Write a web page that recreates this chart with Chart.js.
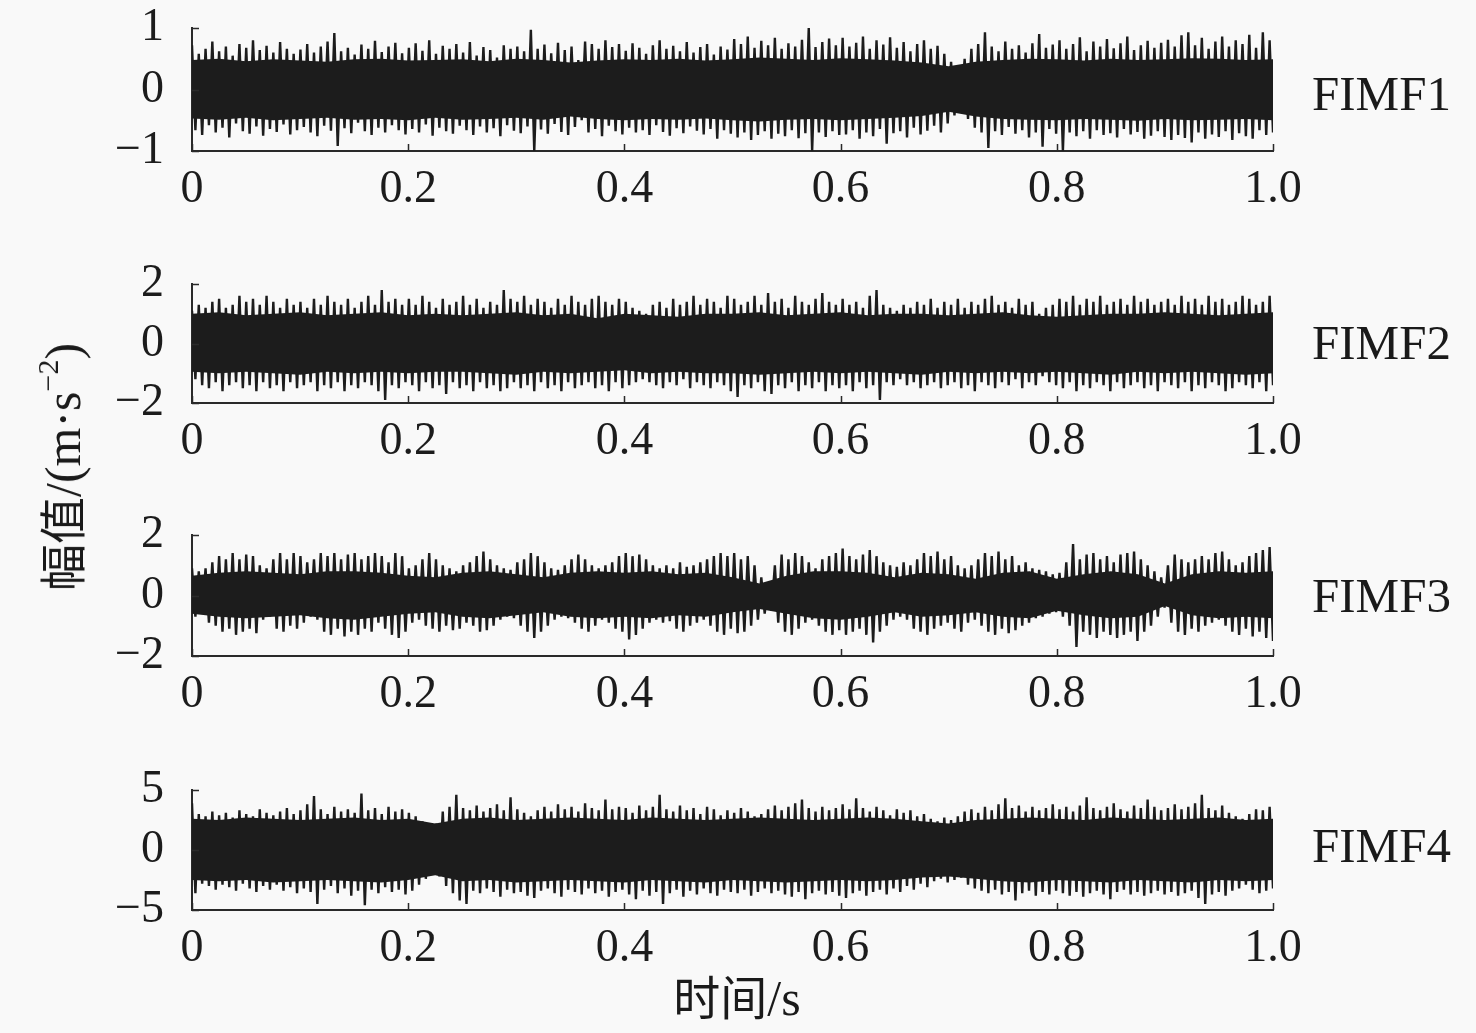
<!DOCTYPE html>
<html>
<head>
<meta charset="utf-8">
<script src="https://cdn.jsdelivr.net/npm/chart.js@4.4.0/dist/chart.umd.min.js"></script>
<style>
  body { margin: 0; background: #f9f9f9; width: 1476px; height: 1033px; position: relative; overflow: hidden;
         font-family: "Liberation Serif", "Times New Roman", "Noto Sans CJK SC", serif; color: #1a1a1a; }
  canvas { position: absolute; left: 0; }
  .imf { position: absolute; left: 1312px; font-size: 49px; line-height: 1; white-space: nowrap; }
  .ytitle { position: absolute; left: 62px; top: 467px; font-size: 50px; line-height: 1; white-space: nowrap;
            transform: translate(-50%, -50%) rotate(-90deg); }
  .xtitle { position: absolute; left: 737px; top: 997px; font-size: 50px; line-height: 1; white-space: nowrap;
            transform: translate(-50%, -50%); }
  .cjk { font-family: "Noto Sans CJK SC", sans-serif; font-size: 47px; }
  sup { font-size: 30px; line-height: 0; vertical-align: 22px; }
</style>
</head>
<body>
<canvas id="c1" width="1476" height="223"></canvas>
<canvas id="c2" width="1476" height="219"></canvas>
<canvas id="c3" width="1476" height="221"></canvas>
<canvas id="c4" width="1476" height="220"></canvas>
<div class="imf" style="top:69px">FIMF1</div>
<div class="imf" style="top:318px">FIMF2</div>
<div class="imf" style="top:571px">FIMF3</div>
<div class="imf" style="top:821px">FIMF4</div>
<div class="ytitle"><span class="cjk">幅值</span>/(m·s<sup>−2</sup>)</div>
<div class="xtitle"><span class="cjk">时间</span>/s</div>
<script>
// envelope of each signal: upper peaks and lower troughs (160 each),
// and the dense core band (41 points, every 0.025 s)
const coreTime = [0,0.025,0.05,0.075,0.1,0.125,0.15,0.175,0.2,0.225,0.25,0.275,0.3,0.325,0.35,0.375,0.4,0.425,0.45,0.475,
  0.5,0.525,0.55,0.575,0.6,0.625,0.65,0.675,0.7,0.725,0.75,0.775,0.8,0.825,0.85,0.875,0.9,0.925,0.95,0.975,1.0];
const xTicks = [0, 0.2, 0.4, 0.6, 0.8, 1.0];

const fimf1Upper = [
  0.72,0.58,0.66,0.78,0.62,0.70,0.55,0.74,0.68,0.80,0.64,0.71,0.60,0.77,0.66,0.58,
  0.65,0.74,0.60,0.70,0.78,0.92,0.62,0.68,0.57,0.73,0.66,0.79,0.61,0.70,0.76,0.59,
  0.68,0.75,0.63,0.80,0.58,0.71,0.66,0.74,0.60,0.77,0.55,0.69,0.64,0.52,0.72,0.66,
  0.70,0.62,0.97,0.66,0.73,0.59,0.76,0.64,0.70,0.48,0.78,0.74,0.66,0.80,0.69,0.74,
  0.63,0.75,0.68,0.58,0.72,0.80,0.66,0.71,0.62,0.77,0.60,0.69,0.74,0.57,0.70,0.65,
  0.82,0.74,0.86,0.68,0.79,0.72,0.84,0.66,0.75,0.70,0.81,1.00,0.69,0.77,0.83,0.72,
  0.84,0.70,0.76,0.86,0.66,0.80,0.73,0.85,0.68,0.77,0.62,0.74,0.80,0.66,0.71,0.58,
  0.45,0.32,0.50,0.66,0.74,0.93,0.70,0.62,0.78,0.66,0.72,0.60,0.75,0.90,0.68,0.73,
  0.80,0.66,0.74,0.85,0.62,0.78,0.70,0.82,0.67,0.75,0.86,0.64,0.72,0.79,0.68,0.76,
  0.81,0.70,0.88,0.93,0.72,0.84,0.66,0.78,0.86,0.70,0.80,0.74,0.89,0.68,0.93,0.80];
const fimf1Lower = [
  -0.66,-0.74,-0.58,-0.70,-0.62,-0.78,-0.55,-0.68,-0.72,-0.60,-0.75,-0.64,-0.69,-0.57,-0.73,-0.66,
  -0.61,-0.70,-0.76,-0.59,-0.67,-0.92,-0.63,-0.71,-0.54,-0.68,-0.74,-0.62,-0.70,-0.58,-0.66,-0.73,
  -0.64,-0.70,-0.57,-0.75,-0.62,-0.68,-0.72,-0.59,-0.66,-0.74,-0.60,-0.70,-0.63,-0.76,-0.58,-0.67,
  -0.71,-0.60,-1.00,-0.65,-0.72,-0.56,-0.69,-0.74,-0.61,-0.50,-0.70,-0.64,-0.76,-0.59,-0.68,-0.73,
  -0.62,-0.70,-0.66,-0.74,-0.58,-0.69,-0.75,-0.63,-0.71,-0.60,-0.67,-0.73,-0.64,-0.80,-0.66,-0.72,
  -0.78,-0.70,-0.82,-0.74,-0.68,-0.80,-0.72,-0.76,-0.66,-0.79,-0.71,-1.00,-0.70,-0.77,-0.68,-0.74,
  -0.73,-0.66,-0.80,-0.70,-0.76,-0.64,-0.88,-0.71,-0.68,-0.78,-0.62,-0.73,-0.67,-0.59,-0.70,-0.55,
  -0.42,-0.30,-0.48,-0.62,-0.70,-0.95,-0.68,-0.74,-0.61,-0.72,-0.66,-0.78,-0.70,-0.93,-0.64,-0.72,
  -1.00,-0.70,-0.76,-0.68,-0.80,-0.66,-0.74,-0.71,-0.78,-0.64,-0.73,-0.69,-0.80,-0.75,-0.68,-0.77,
  -0.82,-0.74,-0.79,-0.86,-0.70,-0.80,-0.73,-0.77,-0.68,-0.82,-0.71,-0.76,-0.80,-0.66,-0.74,-0.70];
const fimf1CoreHi = [0.48,0.50,0.46,0.49,0.47,0.45,0.49,0.50,0.47,0.48,0.49,0.46,0.50,0.48,0.44,0.47,0.49,0.48,0.50,0.47,
  0.49,0.52,0.50,0.48,0.51,0.49,0.47,0.44,0.38,0.45,0.48,0.50,0.49,0.47,0.50,0.48,0.49,0.51,0.50,0.48,0.49];
const fimf1CoreLo = [-0.47,-0.49,-0.46,-0.50,-0.48,-0.46,-0.49,-0.48,-0.50,-0.46,-0.49,-0.48,-0.46,-0.49,-0.44,-0.48,-0.50,-0.48,-0.49,-0.47,
  -0.50,-0.52,-0.49,-0.48,-0.50,-0.48,-0.46,-0.43,-0.36,-0.44,-0.48,-0.49,-0.50,-0.48,-0.49,-0.51,-0.48,-0.50,-0.49,-0.48,-0.50];

const fimf2Upper = [
  1.1,1.3,1.2,1.4,1.5,1.2,1.3,1.6,1.4,1.5,1.3,1.6,1.4,1.2,1.5,1.3,
  1.4,1.2,1.5,1.3,1.6,1.4,1.3,1.5,1.2,1.4,1.6,1.3,1.8,1.4,1.5,1.3,
  1.5,1.3,1.6,1.4,1.2,1.5,1.3,1.4,1.6,1.3,1.5,1.2,1.4,1.3,1.8,1.5,
  1.4,1.6,1.3,1.5,1.4,1.2,1.5,1.3,1.6,1.4,1.3,1.5,1.6,1.4,1.3,1.5,
  1.4,1.2,1.1,1.0,1.3,1.4,1.2,1.5,1.3,1.4,1.6,1.3,1.5,1.4,1.2,1.6,
  1.5,1.3,1.4,1.6,1.3,1.7,1.4,1.5,1.2,1.6,1.4,1.3,1.5,1.7,1.4,1.3,
  1.5,1.3,1.4,1.2,1.6,1.8,1.3,1.2,1.1,1.3,1.2,1.4,1.3,1.5,1.2,1.4,
  1.3,1.5,1.2,1.4,1.3,1.5,1.6,1.3,1.4,1.2,1.5,1.3,1.4,1.0,1.2,1.3,
  1.5,1.4,1.6,1.3,1.5,1.4,1.6,1.3,1.4,1.5,1.3,1.6,1.4,1.5,1.3,1.4,
  1.5,1.3,1.6,1.4,1.5,1.3,1.6,1.4,1.5,1.3,1.4,1.6,1.5,1.3,1.4,1.6];
const fimf2Lower = [
  -1.2,-1.4,-1.5,-1.3,-1.6,-1.4,-1.3,-1.5,-1.4,-1.6,-1.3,-1.5,-1.4,-1.6,-1.3,-1.5,
  -1.4,-1.3,-1.6,-1.4,-1.5,-1.3,-1.6,-1.4,-1.5,-1.3,-1.4,-1.6,-1.9,-1.4,-1.5,-1.3,
  -1.4,-1.6,-1.3,-1.5,-1.4,-1.7,-1.3,-1.5,-1.4,-1.6,-1.3,-1.5,-1.4,-1.6,-1.5,-1.3,
  -1.5,-1.4,-1.6,-1.3,-1.5,-1.4,-1.6,-1.3,-1.5,-1.4,-1.3,-1.5,-1.4,-1.6,-1.3,-1.5,
  -1.4,-1.3,-1.2,-1.3,-1.4,-1.5,-1.3,-1.4,-1.2,-1.5,-1.3,-1.4,-1.5,-1.3,-1.4,-1.6,
  -1.8,-1.4,-1.5,-1.3,-1.6,-1.7,-1.4,-1.5,-1.3,-1.6,-1.4,-1.5,-1.3,-1.6,-1.4,-1.5,
  -1.4,-1.6,-1.3,-1.5,-1.4,-1.9,-1.3,-1.4,-1.2,-1.4,-1.3,-1.5,-1.4,-1.3,-1.5,-1.4,
  -1.3,-1.5,-1.4,-1.6,-1.3,-1.4,-1.5,-1.3,-1.4,-1.2,-1.5,-1.3,-1.4,-1.1,-1.3,-1.4,
  -1.5,-1.3,-1.6,-1.4,-1.5,-1.3,-1.4,-1.6,-1.3,-1.5,-1.4,-1.3,-1.5,-1.4,-1.6,-1.3,
  -1.4,-1.5,-1.3,-1.6,-1.4,-1.5,-1.3,-1.4,-1.6,-1.5,-1.3,-1.4,-1.5,-1.3,-1.6,-1.4];
const fimf2CoreHi = [1.0,1.05,0.95,1.0,1.05,0.95,1.0,1.05,0.95,1.0,0.95,1.0,1.05,0.95,1.0,0.85,1.0,0.95,0.9,1.0,
  1.0,1.05,0.95,1.0,1.05,0.95,1.0,1.0,0.95,1.0,1.05,0.95,0.9,0.95,1.0,1.0,1.05,1.0,0.95,1.0,1.05];
const fimf2CoreLo = [-0.95,-1.0,-0.95,-1.0,-1.05,-0.95,-1.0,-0.95,-1.0,-0.95,-0.95,-1.0,-1.05,-0.95,-1.0,-0.95,-0.9,-1.0,-0.95,-1.0,
  -1.0,-1.05,-1.0,-0.95,-1.0,-0.95,-1.0,-1.05,-0.95,-1.0,-0.95,-1.0,-0.95,-1.0,-1.05,-0.95,-1.0,-0.95,-1.0,-1.05,-1.0];

const fimf3Upper = [
  0.9,0.8,0.9,1.1,1.3,1.2,1.4,1.2,1.35,1.3,1.0,0.9,1.2,1.4,1.2,1.4,
  1.3,1.1,1.2,1.4,1.3,1.4,1.2,1.35,1.4,1.2,1.3,1.4,1.3,1.1,1.4,1.3,
  0.9,1.0,1.2,1.4,1.2,1.0,0.9,0.8,1.0,1.1,1.3,1.45,1.2,1.0,0.9,0.85,
  1.1,1.2,1.4,1.3,1.1,0.9,0.85,1.0,1.2,1.35,1.2,1.0,0.9,1.0,1.1,1.3,
  1.4,1.3,1.35,1.2,1.0,0.9,1.0,0.9,1.1,0.95,1.0,1.1,1.2,1.3,1.4,1.3,
  1.4,1.2,1.3,1.0,0.6,0.4,1.0,1.35,1.2,1.4,1.3,1.1,0.9,1.2,1.3,1.4,
  1.55,1.3,1.2,1.35,1.5,1.3,1.1,1.0,0.95,1.1,1.0,1.2,1.4,1.3,1.45,1.2,
  1.3,1.0,0.9,1.0,1.2,1.4,1.3,1.45,1.2,1.3,1.0,1.1,0.9,0.85,0.8,0.7,
  0.75,1.1,1.7,1.2,1.35,1.4,1.2,1.3,1.1,1.35,1.4,1.45,1.2,1.0,0.8,0.6,
  1.0,1.35,1.2,1.1,1.2,1.3,1.2,1.4,1.45,1.2,1.0,1.1,1.3,1.4,1.5,1.6];
const fimf3Lower = [
  -0.7,-0.6,-0.9,-1.0,-1.2,-1.1,-1.3,-1.2,-1.1,-1.25,-0.8,-0.7,-1.1,-1.2,-1.0,-1.1,
  -0.9,-0.7,-0.8,-1.2,-1.3,-1.1,-1.35,-1.2,-1.3,-1.1,-1.2,-0.9,-1.1,-1.3,-1.4,-1.2,
  -0.9,-0.8,-1.0,-1.1,-1.2,-1.0,-1.15,-1.1,-0.9,-1.0,-1.2,-1.15,-1.0,-0.8,-0.7,-0.75,
  -1.0,-1.2,-1.4,-1.2,-1.0,-0.8,-0.7,-0.75,-0.9,-1.1,-1.2,-1.0,-0.8,-0.9,-1.1,-1.2,
  -1.45,-1.3,-1.1,-0.9,-0.8,-0.9,-0.85,-1.1,-1.2,-1.0,-0.9,-0.8,-1.0,-1.2,-1.3,-1.1,
  -1.25,-1.2,-1.0,-0.8,-0.6,-0.5,-0.9,-1.2,-1.3,-1.1,-0.9,-0.8,-1.0,-1.2,-1.3,-1.15,
  -1.3,-1.2,-1.1,-1.3,-1.55,-1.2,-1.0,-0.8,-0.7,-0.8,-1.1,-1.2,-1.3,-1.1,-1.0,-0.9,
  -1.1,-1.2,-0.9,-0.8,-1.0,-1.2,-1.3,-1.1,-1.25,-1.15,-1.0,-0.9,-0.75,-0.7,-0.6,-0.55,
  -0.7,-1.0,-1.7,-1.2,-1.3,-1.4,-1.2,-1.3,-1.4,-1.3,-1.2,-1.5,-1.2,-1.0,-0.7,-0.4,
  -0.9,-1.2,-1.3,-1.1,-1.2,-1.0,-0.9,-0.8,-1.0,-1.2,-1.3,-1.1,-1.35,-1.2,-1.4,-1.5];
const fimf3CoreHi = [0.65,0.75,0.8,0.75,0.7,0.8,0.8,0.75,0.65,0.6,0.75,0.8,0.7,0.6,0.75,0.8,0.75,0.8,0.7,0.75,
  0.6,0.4,0.65,0.8,0.8,0.75,0.6,0.75,0.7,0.55,0.75,0.8,0.55,0.7,0.8,0.7,0.4,0.7,0.8,0.75,0.8];
const fimf3CoreLo = [-0.6,-0.7,-0.75,-0.7,-0.65,-0.75,-0.8,-0.7,-0.6,-0.55,-0.7,-0.75,-0.65,-0.55,-0.7,-0.75,-0.7,-0.75,-0.65,-0.7,
  -0.55,-0.45,-0.6,-0.75,-0.8,-0.7,-0.55,-0.7,-0.65,-0.55,-0.7,-0.75,-0.5,-0.65,-0.75,-0.7,-0.35,-0.65,-0.75,-0.7,-0.75];

const fimf4Upper = [
  3.9,3.0,2.8,3.2,2.9,3.1,2.7,3.3,3.0,2.8,3.4,3.1,2.9,3.2,3.5,3.0,
  3.3,3.8,4.5,3.4,3.0,3.6,3.2,3.4,3.1,4.7,3.3,3.5,3.0,3.6,3.2,3.4,
  3.1,2.8,2.4,2.0,2.2,3.2,3.6,4.6,3.5,3.3,3.7,3.2,3.5,3.8,3.3,4.4,
  3.4,3.1,2.8,3.3,3.6,3.2,3.8,3.4,3.6,3.2,3.9,3.5,3.3,4.2,3.4,3.6,
  3.5,3.1,3.7,3.3,3.6,4.6,3.4,3.2,3.7,3.3,3.5,3.0,3.6,3.4,2.9,3.3,
  3.1,3.5,3.2,2.8,3.0,3.4,3.7,3.3,3.6,3.9,4.2,3.5,3.2,3.6,3.3,3.5,
  3.8,3.4,4.3,3.5,3.2,3.6,3.3,2.9,3.4,3.1,3.3,2.8,3.0,2.6,2.4,2.7,
  2.5,2.8,3.2,3.4,3.1,3.6,3.3,3.8,4.3,3.5,3.7,3.2,3.6,3.3,3.5,3.8,
  3.4,3.6,3.2,3.7,4.4,3.5,3.3,3.6,3.9,3.4,3.2,3.7,3.5,4.2,3.6,3.3,
  3.5,3.8,3.4,3.6,3.9,4.6,3.5,3.3,3.7,3.1,2.8,2.6,3.0,3.4,3.3,3.6];
const fimf4Lower = [
  -3.6,-2.8,-3.0,-3.3,-2.9,-3.1,-3.4,-2.8,-3.2,-3.5,-3.0,-3.3,-2.9,-3.4,-3.1,-3.6,
  -3.2,-3.5,-4.5,-3.3,-3.0,-3.6,-3.2,-3.8,-3.4,-4.6,-3.3,-3.6,-3.1,-3.5,-3.3,-3.7,
  -3.4,-2.9,-2.4,-1.9,-2.2,-3.0,-3.6,-4.2,-4.5,-3.4,-3.6,-3.2,-3.5,-3.9,-3.3,-3.6,
  -3.5,-3.8,-4.0,-3.4,-3.2,-3.6,-3.9,-3.3,-3.5,-3.7,-3.2,-3.6,-3.4,-3.9,-3.5,-3.3,
  -3.7,-4.1,-3.4,-3.8,-3.5,-4.5,-3.6,-3.3,-3.9,-3.4,-3.7,-3.2,-3.6,-3.8,-3.3,-3.5,
  -3.6,-3.3,-3.8,-3.5,-3.2,-3.6,-3.4,-3.7,-3.9,-3.5,-4.1,-3.6,-3.4,-3.7,-3.5,-3.8,
  -4.0,-3.6,-3.4,-3.8,-3.5,-3.3,-3.7,-3.2,-3.5,-3.0,-3.3,-2.8,-3.1,-2.6,-2.4,-2.7,
  -2.5,-2.3,-2.9,-3.2,-3.4,-3.6,-3.3,-3.7,-3.5,-4.2,-3.6,-3.4,-3.8,-3.5,-3.7,-3.4,
  -3.6,-3.8,-3.5,-3.9,-3.6,-3.4,-3.7,-4.1,-3.5,-3.3,-3.7,-3.5,-3.8,-3.6,-3.4,-3.7,
  -3.5,-3.8,-3.6,-3.4,-4.0,-4.5,-3.7,-3.5,-3.8,-3.4,-3.2,-2.9,-3.3,-3.6,-3.4,-3.2];
const fimf4CoreHi = [2.6,2.5,2.7,2.6,2.5,2.6,2.7,2.5,2.6,2.2,2.6,2.7,2.5,2.6,2.7,2.6,2.5,2.7,2.6,2.5,
  2.6,2.7,2.6,2.5,2.6,2.7,2.6,2.4,2.2,2.5,2.6,2.7,2.6,2.5,2.7,2.6,2.5,2.6,2.7,2.5,2.6];
const fimf4CoreLo = [-2.5,-2.6,-2.5,-2.7,-2.6,-2.5,-2.6,-2.7,-2.5,-2.1,-2.6,-2.5,-2.7,-2.6,-2.5,-2.6,-2.7,-2.5,-2.6,-2.7,
  -2.5,-2.6,-2.7,-2.6,-2.5,-2.6,-2.5,-2.3,-2.2,-2.4,-2.6,-2.7,-2.5,-2.6,-2.7,-2.5,-2.6,-2.7,-2.5,-2.6,-2.5];

const ink = '#1c1c1c';
const axisColor = '#2a2a2a';
const tickFont = { family: '"Liberation Serif", "Times New Roman", serif', size: 46 };

// short inward tick marks like the original figure
const inwardTicks = {
  id: 'inwardTicks',
  afterDatasetsDraw(chart) {
    const { ctx, chartArea: a, scales: { x, y } } = chart;
    ctx.save();
    ctx.strokeStyle = axisColor;
    ctx.lineWidth = 1.5;
    ctx.beginPath();
    x.ticks.forEach(t => {
      const px = Math.round(x.getPixelForValue(t.value)) + 0.5;
      ctx.moveTo(px, a.bottom); ctx.lineTo(px, a.bottom - 7);
    });
    y.ticks.forEach(t => {
      const py = Math.round(y.getPixelForValue(t.value)) + 0.5;
      ctx.moveTo(a.left, py); ctx.lineTo(a.left + 7, py);
    });
    ctx.stroke();
    ctx.restore();
  }
};

function makePanel(id, top, upper, lower, coreHi, coreLo, lim) {
  const n = Math.min(upper.length, lower.length);
  const wave = [];
  for (let i = 0; i < n; i++) {
    wave.push({ x: (2 * i) / (2 * n - 1), y: upper[i] });
    wave.push({ x: (2 * i + 1) / (2 * n - 1), y: lower[i] });
  }
  const el = document.getElementById(id);
  el.style.top = (top - 28) + 'px';
  return new Chart(el, {
    type: 'line',
    data: {
      datasets: [
        { data: coreTime.map((t, k) => ({ x: t, y: coreHi[k] })), fill: '+1', backgroundColor: ink,
          borderWidth: 0, pointRadius: 0 },
        { data: coreTime.map((t, k) => ({ x: t, y: coreLo[k] })), fill: false,
          borderWidth: 0, pointRadius: 0 },
        { data: wave, borderColor: ink, borderWidth: 2.4, borderJoinStyle: 'bevel',
          pointRadius: 0, fill: false, tension: 0 }
      ]
    },
    options: {
      responsive: false,
      animation: false,
      devicePixelRatio: 1,
      layout: { padding: { top: 28, right: 203, left: 0, bottom: 0 } },
      plugins: { legend: { display: false }, tooltip: { enabled: false } },
      scales: {
        x: {
          type: 'linear', min: 0, max: 1,
          afterBuildTicks: s => { s.ticks = xTicks.map(v => ({ value: v })); },
          afterFit: s => { s.height = 72; s.paddingLeft = 0; s.paddingRight = 0; },
          grid: { display: false },
          border: { display: true, color: axisColor, width: 2 },
          ticks: { color: ink, font: tickFont, padding: 3, maxRotation: 0, autoSkip: false,
                   callback: v => v === 0 ? '0' : v.toFixed(1) }
        },
        y: {
          min: -lim, max: lim,
          afterBuildTicks: s => { s.ticks = [-lim, 0, lim].map(v => ({ value: v })); },
          afterFit: s => { s.width = 192; s.paddingTop = 0; s.paddingBottom = 0; },
          grid: { display: false },
          border: { display: true, color: axisColor, width: 2 },
          ticks: { color: ink, font: tickFont, padding: 20, autoSkip: false,
                   callback: v => v < 0 ? '\u2212' + Math.abs(v) : String(v) }
        }
      }
    },
    plugins: [inwardTicks]
  });
}

makePanel('c1', 28, fimf1Upper, fimf1Lower, fimf1CoreHi, fimf1CoreLo, 1);
makePanel('c2', 284, fimf2Upper, fimf2Lower, fimf2CoreHi, fimf2CoreLo, 2);
makePanel('c3', 535, fimf3Upper, fimf3Lower, fimf3CoreHi, fimf3CoreLo, 2);
makePanel('c4', 790, fimf4Upper, fimf4Lower, fimf4CoreHi, fimf4CoreLo, 5);
</script>
</body>
</html>
